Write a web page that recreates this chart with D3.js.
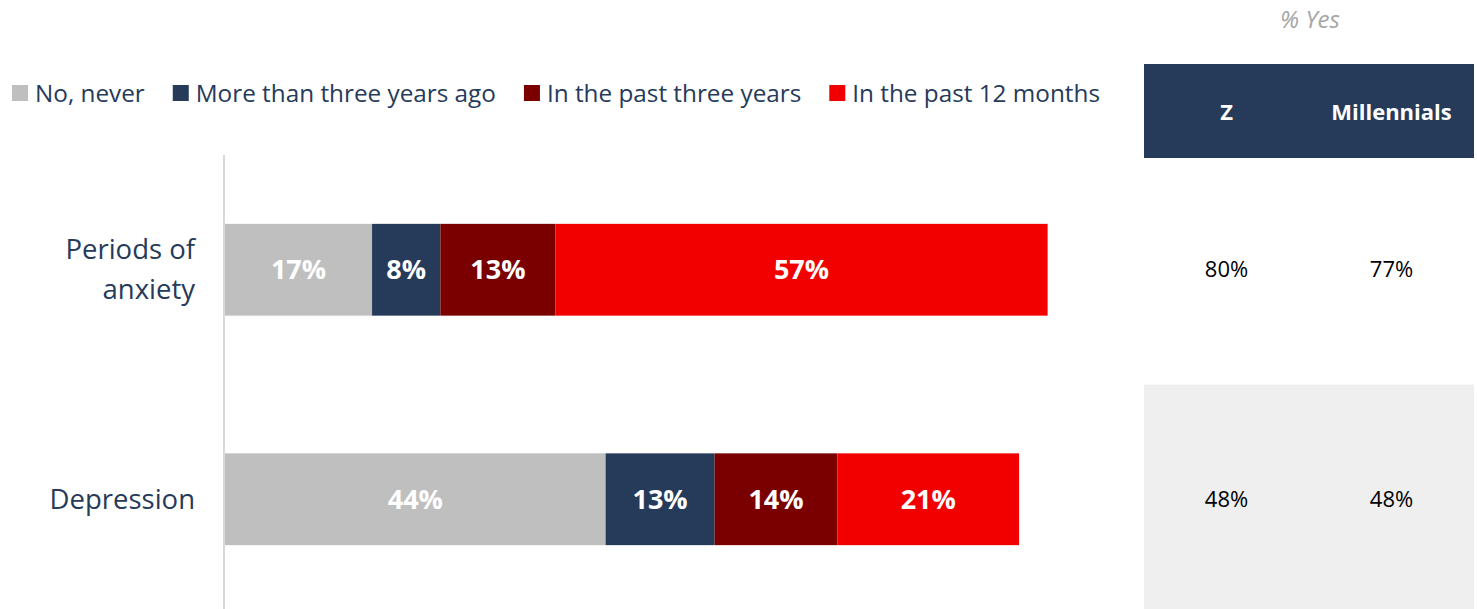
<!DOCTYPE html>
<html>
<head>
<meta charset="utf-8">
<script src="https://cdn.jsdelivr.net/npm/d3@7"></script>
<style>
  body { margin: 0; background: #fff; }
  svg { display: block; font-family: "Open Sans", Lato, sans-serif; }
</style>
</head>
<body>
<div id="chart"></div>
<script>
// categories, series and the side table
var categories = ["Periods of anxiety", "Depression"];
var series = ["No, never", "More than three years ago", "In the past three years", "In the past 12 months"];
var colors = ["#bfbfbf", "#263a5a", "#7a0000", "#f20000"];
var noNever = [17.0, 44.0];
var moreThanThree = [7.9, 12.6];
var pastThree = [13.3, 14.2];
var past12 = [56.9, 21.0];
var tableCols = ["Z", "Millennials"];
var genZ = [80, 48];
var millennials = [77, 48];

var width = 1477, height = 609;
var navy = "#263a5a";

var svg = d3.select("#chart").append("svg")
    .attr("width", width)
    .attr("height", height);

//build stacked rows
var rows = categories.map(function (c, i) {
    return { cat: c, "0": noNever[i], "1": moreThanThree[i], "2": pastThree[i], "3": past12[i] };
});
var stack = d3.stack().keys(["0", "1", "2", "3"]);
var layers = stack(rows);

var x = d3.scaleLinear().domain([0, 100]).range([225, 1090]);
var y = d3.scaleBand().domain(categories).range([155, 614]).paddingInner(0.6).paddingOuter(0.3);

// axis line on the left of the bars
svg.append("line")
    .attr("x1", 224).attr("x2", 224)
    .attr("y1", 155).attr("y2", height)
    .attr("stroke", "#d9d9d9")
    .attr("stroke-width", 2);

var layer = svg.selectAll(".layer")
    .data(layers)
    .enter().append("g")
    .attr("class", "layer")
    .attr("fill", function (d, i) { return colors[i]; });

layer.selectAll("rect")
    .data(function (d) { return d; })
    .enter().append("rect")
    .attr("x", function (d) { return x(d[0]); })
    .attr("y", function (d) { return y(d.data.cat); })
    .attr("width", function (d) { return x(d[1]) - x(d[0]); })
    .attr("height", y.bandwidth());

layer.selectAll("text")
    .data(function (d) { return d; })
    .enter().append("text")
    .attr("x", function (d) { return (x(d[0]) + x(d[1])) / 2; })
    .attr("y", function (d) { return y(d.data.cat) + y.bandwidth() / 2; })
    .attr("dy", "0.35em")
    .attr("text-anchor", "middle")
    .attr("fill", "#fff")
    .attr("font-weight", "bold")
    .attr("font-size", 27)
    .text(function (d) { return Math.round(d[1] - d[0]) + "%"; });

// category labels, wrapped like the original
var catLines = { "Periods of anxiety": ["Periods of", "anxiety"], "Depression": ["Depression"] };
categories.forEach(function (c) {
    var lines = catLines[c];
    var t = svg.append("text")
        .attr("text-anchor", "end")
        .attr("font-size", 27.5)
        .attr("fill", navy);
    lines.forEach(function (l, k) {
        t.append("tspan")
            .attr("x", 195)
            .attr("y", y(c) + y.bandwidth() / 2 + (k - (lines.length - 1) / 2) * 40)
            .attr("dy", "0.35em")
            .text(l);
    });
});

// legend
var lx = 12;
series.forEach(function (s, i) {
    var g = svg.append("g").attr("transform", "translate(" + lx + ",85)");
    g.append("rect").attr("width", 16).attr("height", 16).attr("fill", colors[i]);
    var t = g.append("text")
        .attr("x", 23).attr("y", 8).attr("dy", "0.35em")
        .attr("font-size", 24.3)
        .attr("fill", navy)
        .text(s);
    lx += 23 + t.node().getComputedTextLength() + 28;
});

// side table
var tx = d3.scaleBand().domain(tableCols).range([1144, 1474]);
var step = y.step();

svg.append("text")
    .attr("x", 1310).attr("y", 20).attr("dy", "0.35em")
    .attr("text-anchor", "middle")
    .attr("font-size", 24)
    .attr("font-style", "italic")
    .attr("fill", "#a6a6a6")
    .text("% Yes");

svg.selectAll(".rowbg")
    .data(categories)
    .enter().append("rect")
    .attr("class", "rowbg")
    .attr("x", 1144)
    .attr("y", function (d) { return y(d) + y.bandwidth() / 2 - step / 2; })
    .attr("width", 330)
    .attr("height", step)
    .attr("fill", function (d, i) { return i % 2 ? "#efefef" : "#fff"; });

svg.append("rect")
    .attr("x", 1144).attr("y", 64)
    .attr("width", 330).attr("height", 94)
    .attr("fill", navy);

svg.selectAll(".colhead")
    .data(tableCols)
    .enter().append("text")
    .attr("class", "colhead")
    .attr("x", function (d) { return tx(d) + tx.bandwidth() / 2; })
    .attr("y", 112).attr("dy", "0.35em")
    .attr("text-anchor", "middle")
    .attr("font-size", 22)
    .attr("font-weight", "bold")
    .attr("fill", "#fff")
    .text(function (d) { return d; });

categories.forEach(function (c, i) {
    [genZ[i], millennials[i]].forEach(function (v, j) {
        svg.append("text")
            .attr("x", tx(tableCols[j]) + tx.bandwidth() / 2)
            .attr("y", y(c) + y.bandwidth() / 2).attr("dy", "0.35em")
            .attr("text-anchor", "middle")
            .attr("font-size", 22)
            .attr("fill", "#000")
            .text(v + "%");
    });
});
</script>
</body>
</html>
